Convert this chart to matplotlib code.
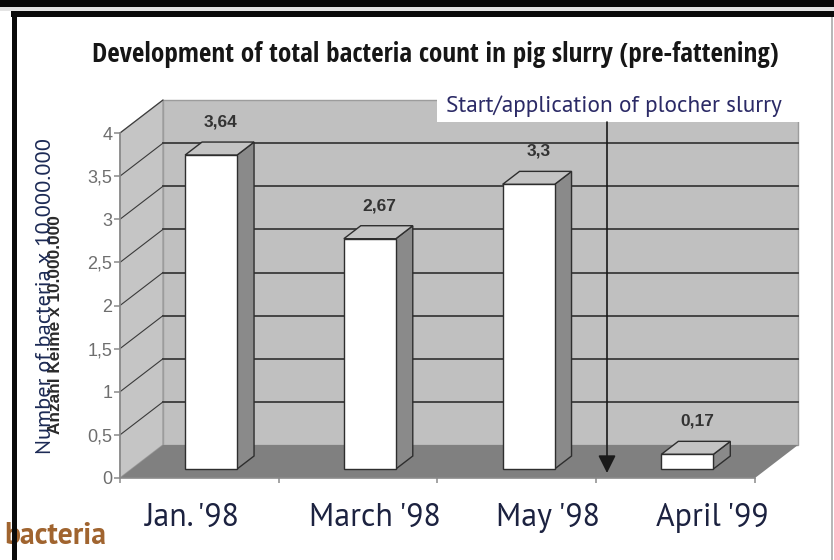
import matplotlib
matplotlib.use('Agg')
import matplotlib.pyplot as plt
from matplotlib.patches import Polygon, Rectangle

# ---------------- data ----------------
categories = ["Jan. '98", "March '98", "May '98", "April '99"]
values = [3.64, 2.67, 3.3, 0.17]
value_labels = ["3,64", "2,67", "3,3", "0,17"]
y_ticks = [0, 0.5, 1, 1.5, 2, 2.5, 3, 3.5, 4]
y_tick_labels = ["0", "0,5", "1", "1,5", "2", "2,5", "3", "3,5", "4"]
title = "Development of total bacteria count in pig slurry (pre-fattening)"
ylabel_en = "Number of bacteria x 10.000.000"
ylabel_de = "Anzahl Keime x 10.000.000"
note = "Start/application of plocher slurry"
marker_pos = 3          # category boundary where the application starts
corner_text = "bacteria"

# ---------------- layout ----------------
W, H = 834, 560
fig = plt.figure(figsize=(W / 100, H / 100), dpi=100)
fig.patch.set_facecolor('white')

X0_PX, X1_PX = 120, 755      # front plane, left/right
Y0_PX, Y4_PX = 478, 133      # front plane, value 0 / value 4
n = len(categories)
ymax = y_ticks[-1]
ppx = (X1_PX - X0_PX) / n
ppy = (Y0_PX - Y4_PX) / ymax

ax = fig.add_axes([0, 0, 1, 1])
ax.set_xlim(-X0_PX / ppx, (W - X0_PX) / ppx)
ax.set_ylim((Y0_PX - H) / ppy, Y0_PX / ppy)
ax.set_facecolor('none')

def px2d(xp, yp):
    return ((xp - X0_PX) / ppx, (Y0_PX - yp) / ppy)

DX = 43 / ppx   # depth offset (data units)
DV = 33 / ppy

COND = ['Open Sans Condensed', 'IBM Plex Sans Condensed', 'DejaVu Sans']
HUMAN = ['PT Sans', 'Myriad Pro', 'Lato', 'DejaVu Sans']
ARIAL = ['Liberation Sans', 'DejaVu Sans']

# walls and floor
ax.add_patch(Polygon([(DX, DV), (n + DX, DV), (n + DX, ymax + DV), (DX, ymax + DV)],
                     closed=True, fc='#c0c0c0', ec='#9c9c9c', lw=1.0, zorder=1))
ax.add_patch(Polygon([(0, 0), (DX, DV), (DX, ymax + DV), (0, ymax)],
                     closed=True, fc='#c5c5c5', ec='#9c9c9c', lw=1.0, zorder=1))
ax.add_patch(Polygon([(0, 0), (n, 0), (n + DX, DV), (DX, DV)],
                     closed=True, fc='#808080', ec='none', zorder=1.2))

# gridlines
for v in y_ticks[1:-1]:
    ax.plot([DX, n + DX], [v + DV, v + DV], color='#3a3a3a', lw=1.3, zorder=1.5)
for v in y_ticks[1:]:
    ax.plot([0, DX], [v, v + DV], color='#3a3a3a', lw=0.8, zorder=1.5)

# bars
bw = 52 / ppx
f0, f1 = 9 / 33, 22 / 33
for i, (val, lab) in enumerate(zip(values, value_labels)):
    c = i + 0.5
    xl, xr = c - bw / 2, c + bw / 2
    a0x, a0y = f0 * DX, f0 * DV
    a1x, a1y = f1 * DX, f1 * DV
    ec = '#2e2e2e'
    ax.add_patch(Polygon([(xr + a0x, a0y), (xr + a1x, a1y), (xr + a1x, val + a1y), (xr + a0x, val + a0y)],
                         closed=True, fc='#8a8a8a', ec=ec, lw=1.0, zorder=3))
    ax.add_patch(Polygon([(xl + a0x, val + a0y), (xr + a0x, val + a0y), (xr + a1x, val + a1y), (xl + a1x, val + a1y)],
                         closed=True, fc='#c4c4c4', ec=ec, lw=1.0, zorder=3))
    ax.add_patch(Rectangle((xl + a0x, a0y), bw, val, fc='white', ec=ec, lw=1.0, zorder=3.2))
    ax.text(c + 0.5 * DX, val + 0.46 * DV + 27 / ppy, lab, ha='center', va='center',
            fontsize=12.5, fontweight='bold', color='#333333', family=ARIAL, zorder=4)

# axes lines / ticks
for s in ['top', 'right']:
    ax.spines[s].set_visible(False)
ax.spines['left'].set_position(('data', 0))
ax.spines['left'].set_bounds(0, ymax)
ax.spines['bottom'].set_position(('data', 0))
ax.spines['bottom'].set_bounds(0, n)
for s in ['left', 'bottom']:
    ax.spines[s].set_color('#8a8a8a')
    ax.spines[s].set_linewidth(1.2)
    ax.spines[s].set_zorder(2)
ax.set_yticks(y_ticks, y_tick_labels)
ax.set_xticks(range(n + 1), [''] * (n + 1))
ax.tick_params(axis='y', direction='out', length=4.5, width=1.1, color='#8a8a8a',
               labelcolor='#6e6e6e', labelsize=13, pad=1)
ax.tick_params(axis='x', direction='out', length=3.5, width=1.1, color='#8a8a8a')
for t in ax.get_yticklabels():
    t.set_family(ARIAL)

# category labels
label_shift_px = [-8, 17, 31, 37]
cat_texts = []
for i, (cat, sh) in enumerate(zip(categories, label_shift_px)):
    t = ax.text(i + 0.5 + sh / ppx, -40 / ppy, cat, ha='center', va='center',
                fontsize=20, color='#1c2240', family=HUMAN, zorder=4)
    cat_texts.append(t)

# application marker
xa = marker_pos + 0.25 * DX
box_x0, box_y0 = px2d(437, 122)
box_x1, box_y1 = px2d(801, 88)
ax.add_patch(Rectangle((box_x0, box_y0), box_x1 - box_x0, box_y1 - box_y0,
                       fc='white', ec='none', zorder=2.5))
ax.annotate('', xy=(xa, px2d(0, 473)[1]), xytext=(xa, box_y0),
            arrowprops=dict(arrowstyle='-|>,head_length=0.4,head_width=0.2', color='#1a1a1a',
                            lw=1.2, mutation_scale=27, shrinkA=0, shrinkB=0), zorder=2.6)
t_note = fig.text(614 / W, 1 - 106 / H, note, ha='center', va='center', fontsize=16,
                  color='#2b2a66', family=HUMAN)

# title & axis labels
t_title = fig.text(435 / W, 1 - 55 / H, title, ha='center', va='center', fontsize=18,
                   fontweight='bold', color='#161616', family=COND)
t_de = fig.text(55 / W, 1 - 325 / H, ylabel_de, ha='center', va='center', rotation=90,
                fontsize=10, fontweight='bold', color='#2a2a2a', family=ARIAL)
t_en = fig.text(46 / W, 1 - 296 / H, ylabel_en, ha='center', va='center', rotation=90,
                fontsize=16, color='#1c2a55', family=HUMAN)
t_corner = fig.text(106 / W, 1 - 536 / H, corner_text, ha='right', va='center', fontsize=18,
                    fontweight='bold', color='#a0642f', family=HUMAN)

# fit text widths to the reference
fig.canvas.draw()
r = fig.canvas.get_renderer()
def fit(t, target, dim='w'):
    bb = t.get_window_extent(r)
    size = bb.width if dim == 'w' else bb.height
    t.set_fontsize(t.get_fontsize() * target / size)
fit(t_title, 686)
fit(t_note, 338)
fit(t_en, 317, 'h')
fit(t_de, 220, 'h')
fit(t_corner, 102)
fit(cat_texts[0], 95)
for t in cat_texts[1:]:
    t.set_fontsize(cat_texts[0].get_fontsize())

# scan frame
def frect(x0, y0, x1, y1, color):
    fig.add_artist(Rectangle((x0 / W, 1 - y1 / H), (x1 - x0) / W, (y1 - y0) / H,
                             transform=fig.transFigure, fc=color, ec='none', zorder=10))
frect(0, 0, W, 7, '#0a0a0a')
frect(0, 7, W, 11, '#e4e4e4')
frect(11, 11, W, 17, '#0a0a0a')
frect(12, 11, 16.5, H, '#0a0a0a')
frect(831, 17, 833, H, '#b8b8b8')

fig.savefig('out.png', dpi=100, facecolor='white')
